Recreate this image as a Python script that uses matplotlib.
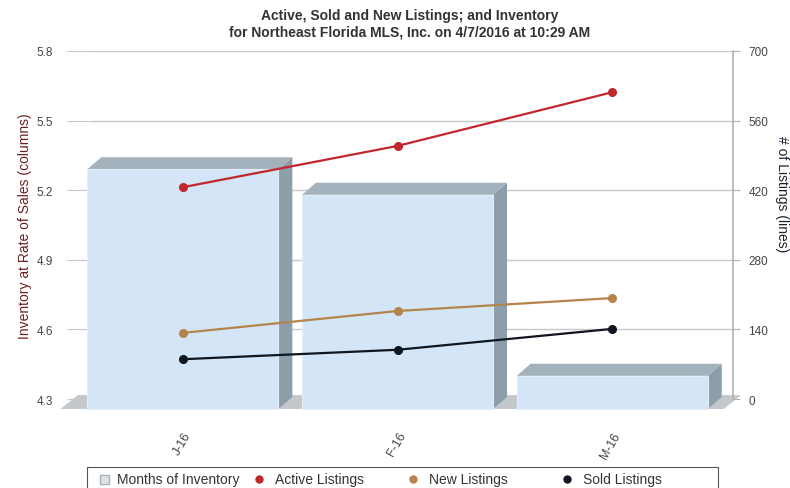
import numpy as np
import matplotlib
matplotlib.use("Agg")
import matplotlib.pyplot as plt
from matplotlib.patches import Polygon, Rectangle
from matplotlib.lines import Line2D

plt.rcParams['font.family'] = ['Liberation Sans', 'DejaVu Sans']

# data
months = ["J-16", "F-16", "M-16"]
inventory = [5.29, 5.18, 4.40]       # months of inventory (columns, left axis)
active = [426, 509, 617]             # active listings (right axis)
new_listings = [133, 177, 203]
sold = [80, 99, 141]

left_ticks = [4.3, 4.6, 4.9, 5.2, 5.5, 5.8]
right_ticks = [0, 140, 280, 420, 560, 700]

W, H = 790, 489
fig = plt.figure(figsize=(W / 100, H / 100), dpi=100)
ax = fig.add_axes([0.1165, 0.182, 0.8115, 0.7117])
ax2 = ax.twinx()

x = np.arange(len(months))
ax.set_xlim(-0.423, 2.563)
ax.set_ylim(4.3, 5.8)
ax2.set_ylim(0, 700)

# pseudo-3d columns
w = 0.89
dx, dy = 0.065, 0.052
base = 4.257
front = "#d3e5f6"
side = "#8c9ea9"
topc = "#a3b2bc"
floor = "#c4c8cb"

# floor, mostly hidden behind the columns
ax.add_patch(Polygon([(-0.57, base), (-0.49, base + 0.06), (2.60, base + 0.06), (2.52, base)],
                     closed=True, fc=floor, ec="none", zorder=1, clip_on=False))

for xi, v in zip(x, inventory):
    xl, xr = xi - w / 2, xi + w / 2
    ax.add_patch(Polygon([(xr, base), (xr + dx, base + dy), (xr + dx, v + dy), (xr, v)],
                         closed=True, fc=side, ec="none", zorder=2, clip_on=False))
    ax.add_patch(Polygon([(xl, v), (xl + dx, v + dy), (xr + dx, v + dy), (xr, v)],
                         closed=True, fc=topc, ec="none", zorder=2, clip_on=False))
    ax.add_patch(Rectangle((xl, base), w, v - base, fc=front, ec="#e4eef8", lw=0.8,
                           zorder=3, clip_on=False))

ax.set_yticks(left_ticks)
ax.set_yticklabels([f"{t:.1f}" for t in left_ticks])
ax.grid(axis="y", color="#c8c8c8", lw=1)
ax.set_axisbelow(True)
ax.tick_params(axis="y", length=18, color="#c8c8c8", labelsize=8.5, labelcolor="#444444", pad=10)
ax.set_xticks(x)
ax.set_xticklabels(months, rotation=60, ha="right", va="top", rotation_mode="anchor",
                   fontsize=9, color="#444444")
ax.tick_params(axis="x", length=0, pad=22)

for s in ["left", "top", "bottom"]:
    ax.spines[s].set_visible(False)
    ax2.spines[s].set_visible(False)
ax.spines["right"].set_visible(False)
ax2.spines["right"].set_color("#b0b0b0")
ax2.spines["right"].set_linewidth(1.2)

ax2.set_yticks(right_ticks)
ax2.tick_params(axis="y", length=5, color="#b0b0b0", labelsize=8.5, labelcolor="#444444", pad=6)

ax2.plot(x, active, color="#c0282d", lw=1.6, marker="o", ms=5.5, zorder=5)
ax2.plot(x, new_listings, color="#b5834c", lw=1.6, marker="o", ms=5.5, zorder=5)
ax2.plot(x, sold, color="#10161f", lw=1.6, marker="o", ms=5.5, zorder=5)

ax.set_ylabel("Inventory at Rate of Sales (columns)", fontsize=10, color="#6e1f1f")
ax.yaxis.set_label_coords(-0.093, 0.5)
ax2.set_ylabel("# of Listings (lines)", fontsize=10, color="#1c2230", rotation=270, va="center")
ax2.yaxis.set_label_coords(1.076, 0.592)

fig.suptitle("Active, Sold and New Listings; and Inventory\nfor Northeast Florida MLS, Inc. on 4/7/2016 at 10:29 AM",
             fontsize=10, fontweight="bold", color="#333333", y=0.982, x=0.519,
             linespacing=1.25)

# legend box at the bottom, equal width columns, bottom edge runs off the image
labels = ["Months of Inventory", "Active Listings", "New Listings", "Sold Listings"]
colors = [None, "#c0282d", "#b5834c", "#10161f"]
fig.add_artist(Rectangle((87 / W, -3 / H), 631 / W, 24 / H, transform=fig.transFigure,
                         fill=False, ec="#555555", lw=0.8))
ly = 1 - 480 / H
for i, (lab, c) in enumerate(zip(labels, colors)):
    mx = 105 + i * 154
    if c is None:
        fig.add_artist(Rectangle(((mx - 5) / W, ly - 5 / H), 9 / W, 9 / H,
                                 transform=fig.transFigure, fc="#dfe3e6", ec="#a9b0b5", lw=1))
        tx = mx + 12
    else:
        fig.add_artist(Line2D([mx / W], [ly], transform=fig.transFigure, color=c,
                              marker="o", ms=5, ls="none"))
        tx = mx + 16
    fig.text(tx / W, ly, lab, fontsize=10, color="#333333", va="center", ha="left")

fig.savefig("out.png", dpi=100)
